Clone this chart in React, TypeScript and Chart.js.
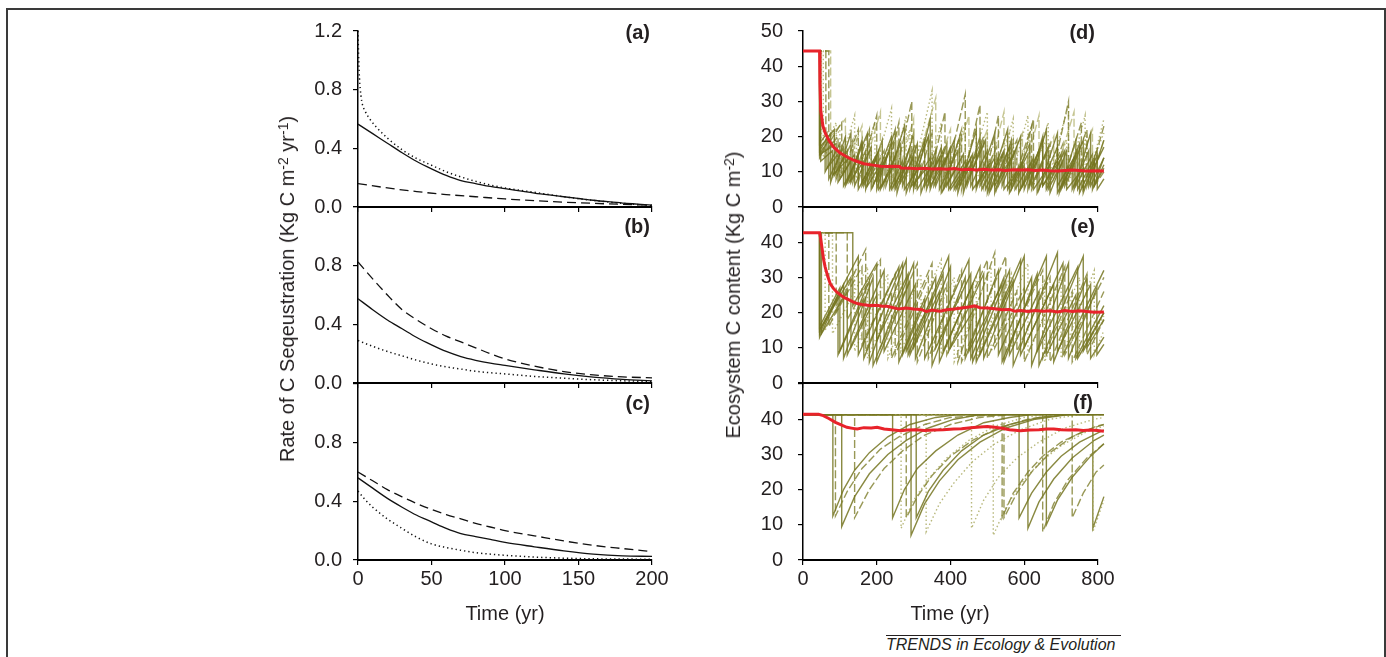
import React, { useEffect, useRef } from "react";
import { Chart, registerables } from "chart.js";
Chart.register(...registerables);

// ---------------- DATA ----------------
// Left column: rate of C sequestration (flat [year, value, ...])
const A_SOLID = [0,0.565, 10,0.5, 20,0.435, 30,0.37, 40,0.31, 50,0.26, 60,0.215, 70,0.18, 80,0.16, 90,0.14, 100,0.125, 110,0.11, 120,0.095, 130,0.082, 140,0.07, 150,0.058, 160,0.046, 170,0.036, 180,0.027, 190,0.02, 200,0.013];
const A_DASH = [0,0.16, 20,0.13, 40,0.105, 60,0.085, 80,0.07, 100,0.055, 120,0.043, 140,0.033, 160,0.025, 180,0.018, 200,0.012];
const A_DOT = [0,1.2, 0.5,1.0, 1,0.88, 2,0.76, 3,0.7, 5,0.65, 8,0.6, 12,0.55, 20,0.47, 30,0.39, 40,0.33, 50,0.285, 60,0.24, 70,0.205, 80,0.175, 90,0.15, 100,0.13, 120,0.1, 140,0.07, 160,0.045, 180,0.025, 200,0.01];

const B_SOLID = [0,0.575, 10,0.5, 20,0.43, 30,0.37, 40,0.31, 50,0.26, 60,0.215, 70,0.18, 80,0.155, 90,0.135, 100,0.12, 120,0.09, 140,0.062, 160,0.04, 180,0.025, 200,0.015];
const B_DASH = [0,0.825, 10,0.71, 20,0.6, 30,0.5, 40,0.43, 50,0.37, 60,0.32, 70,0.28, 80,0.24, 90,0.2, 100,0.165, 120,0.115, 140,0.078, 160,0.055, 180,0.042, 200,0.035];
const B_DOT = [0,0.29, 10,0.25, 20,0.215, 30,0.185, 40,0.155, 50,0.13, 60,0.11, 70,0.095, 80,0.08, 100,0.062, 120,0.045, 140,0.033, 160,0.022, 180,0.015, 200,0.01];

const C_SOLID = [0,0.56, 10,0.49, 20,0.42, 30,0.36, 40,0.305, 50,0.26, 60,0.215, 70,0.18, 80,0.16, 90,0.14, 100,0.12, 120,0.09, 140,0.062, 160,0.04, 180,0.028, 200,0.025];
const C_DASH = [0,0.6, 10,0.54, 20,0.48, 30,0.43, 40,0.385, 50,0.345, 60,0.31, 70,0.28, 80,0.25, 90,0.225, 100,0.2, 120,0.165, 140,0.13, 160,0.1, 180,0.078, 200,0.058];
const C_DOT = [0,0.47, 5,0.41, 10,0.36, 20,0.28, 30,0.215, 40,0.155, 50,0.11, 60,0.085, 70,0.066, 80,0.05, 100,0.032, 120,0.02, 150,0.01, 200,0.005];

// Right column: ecosystem C content, mean (red)
const RED_D = [0,44.3, 45,44.3, 46,35, 48,27.5, 54,23, 61,20.8, 70,19, 83,17, 100,15.4, 119,14.2, 140,13.2, 165,12.3, 190,11.9, 210,11.6, 230,11.5, 250,11.6, 262,11.5, 266,11.1, 290,11.0, 310,10.9, 330,11.0, 350,10.8, 370,10.9, 390,10.7, 410,10.9, 430,10.6, 450,10.7, 470,10.5, 490,10.7, 510,10.5, 530,10.6, 550,10.4, 570,10.6, 590,10.5, 610,10.6, 630,10.4, 650,10.5, 670,10.3, 690,10.2, 710,10.4, 730,10.5, 750,10.4, 770,10.2, 790,10.3, 816,10.2];
const RED_E = [0,42.7, 45,42.7, 48,41, 52,38, 56,35, 60,33, 67,30.3, 74,28.2, 83,26.8, 92,25.8, 110,24.4, 125,23.6, 137,23, 150,22.5, 165,22.2, 180,22.0, 200,22.1, 215,21.8, 228,21.8, 245,21.4, 260,21.0, 280,21.3, 300,21.0, 320,20.9, 335,20.3, 350,20.7, 370,20.4, 390,20.8, 410,21.0, 430,21.3, 450,21.6, 465,21.9, 480,21.4, 500,21.3, 520,21.1, 540,20.8, 560,20.9, 575,20.4, 590,20.6, 610,20.3, 630,20.6, 650,20.4, 670,20.5, 690,20.2, 710,20.6, 730,20.3, 750,20.5, 770,20.3, 790,20.1, 816,20.2];
const RED_F = [0,41.4, 42,41.4, 55,41.0, 70,40.2, 88,39.1, 105,38.3, 119,37.7, 135,37.4, 147,37.2, 165,37.6, 185,37.5, 201,37.7, 220,37.2, 240,37.0, 264,36.7, 285,36.9, 305,37.0, 330,36.8, 355,36.9, 380,37.0, 409,37.2, 430,37.3, 455,37.6, 480,37.8, 500,37.9, 520,37.7, 540,37.4, 560,37.0, 590,36.7, 615,36.9, 640,37.0, 660,37.2, 680,37.2, 700,37.0, 720,36.9, 740,37.0, 760,36.8, 780,36.9, 798,36.8, 816,36.6];

// Individual stand simulations (olive), panel d
const D1 = [0,44.3, 45,44.3, 45,15, 70,19, 70,8, 110,17, 110,6, 150,14, 150,5, 190,13, 190,6, 240,20, 240,5, 280,12, 280,4, 330,19, 330,6, 370,14, 370,5, 420,16, 420,4, 470,22, 470,6, 510,13, 510,5, 560,17, 560,4, 600,12, 600,5, 650,19, 650,6, 700,15, 700,5, 750,18, 750,4, 790,13, 790,6, 816,12];
const D2 = [0,44.3, 46,44.3, 46,17, 85,22, 85,9, 120,16, 120,7, 175,21, 175,6, 210,12, 210,5, 265,18, 265,7, 300,14, 300,5, 345,25, 345,6, 395,15, 395,5, 440,13, 440,6, 495,19, 495,5, 540,15, 540,6, 590,20, 590,5, 635,13, 635,4, 690,17, 690,6, 735,14, 735,5, 780,21, 780,6, 816,14];
const D3 = [0,44.3, 45,44.3, 45,14, 60,17, 60,10, 100,18, 100,8, 140,15, 140,6, 185,17, 185,5, 225,14, 225,6, 275,23, 275,5, 320,12, 320,4, 360,16, 360,6, 410,19, 410,5, 455,14, 455,6, 500,16, 500,4, 555,22, 555,5, 595,13, 595,6, 640,16, 640,5, 690,21, 690,4, 730,12, 730,5, 775,16, 775,6, 816,19];
const D4 = [0,44.3, 62,44.3, 62,16, 95,20, 95,10, 135,19, 135,7, 180,22, 180,8, 220,16, 220,6, 260,24, 260,7, 305,18, 305,5, 350,21, 350,8, 385,14, 385,6, 430,22, 430,5, 480,29, 480,7, 525,17, 525,5, 570,19, 570,7, 620,23, 620,5, 660,15, 660,6, 705,18, 705,7, 755,24, 755,5, 797,16, 797,7, 816,10];
const D5 = [0,44.3, 70,44.3, 70,18, 105,24, 105,9, 150,22, 150,7, 200,26, 200,8, 245,19, 245,6, 295,30, 295,9, 340,20, 340,6, 385,27, 385,7, 440,32, 440,9, 490,20, 490,6, 530,26, 530,8, 580,19, 580,6, 625,25, 625,7, 670,18, 670,6, 720,30, 720,8, 770,22, 770,6, 816,23];
const D6 = [0,44.3, 50,44.3, 50,16, 90,24, 90,8, 140,26, 140,9, 185,20, 185,7, 240,28, 240,8, 290,22, 290,6, 350,33, 350,9, 390,18, 390,7, 440,24, 440,6, 500,27, 500,8, 560,21, 560,6, 610,26, 610,8, 660,19, 660,6, 720,29, 720,7, 770,20, 770,6, 816,25];
const D7 = [0,44.3, 45,44.3, 45,16, 75,21, 75,7, 115,20, 115,6, 160,18, 160,7, 200,15, 200,5, 250,22, 250,6, 290,17, 290,5, 340,20, 340,7, 380,16, 380,5, 425,20, 425,6, 470,15, 470,5, 520,21, 520,6, 565,14, 565,5, 615,18, 615,6, 660,22, 660,5, 710,16, 710,6, 760,19, 760,5, 816,17];
const D8 = [0,44.3, 48,44.3, 48,13, 80,16, 80,9, 125,14, 125,7, 165,13, 165,6, 205,16, 205,5, 250,12, 250,5, 295,15, 295,6, 335,11, 335,5, 375,17, 375,4, 415,11, 415,5, 460,15, 460,5, 505,12, 505,4, 545,16, 545,5, 585,11, 585,4, 625,14, 625,5, 670,12, 670,4, 715,16, 715,5, 760,11, 760,4, 798,15, 798,5, 816,8];
const D9 = [0,44.3, 45,44.3, 45,18, 65,21, 65,11, 95,15, 95,7, 130,13, 130,8, 160,19, 160,6, 200,14, 200,7, 235,16, 235,5, 270,13, 270,6, 310,18, 310,5, 355,13, 355,6, 400,17, 400,5, 445,12, 445,6, 485,18, 485,5, 530,14, 530,6, 575,16, 575,5, 620,13, 620,6, 665,17, 665,5, 705,13, 705,6, 745,16, 745,5, 790,14, 790,6, 816,11];
const D10 = [0,44.3, 75,44.3, 75,20, 115,25, 115,10, 160,23, 160,9, 210,27, 210,10, 255,21, 255,8, 300,25, 300,9, 360,31, 360,10, 400,22, 400,8, 450,26, 450,9, 500,22, 500,8, 545,27, 545,9, 595,21, 595,8, 640,26, 640,10, 680,20, 680,8, 735,27, 735,9, 785,22, 785,8, 816,19];
const D11 = [0,44.3, 47,44.3, 47,15, 90,18, 90,8, 130,21, 130,7, 170,16, 170,5, 215,19, 215,6, 255,15, 255,4, 300,21, 300,6, 345,14, 345,5, 390,18, 390,6, 435,15, 435,4, 480,20, 480,6, 520,14, 520,4, 565,19, 565,6, 610,15, 610,5, 650,20, 650,6, 695,13, 695,4, 740,19, 740,6, 785,15, 785,5, 816,14];
const D12 = [0,44.3, 55,44.3, 55,14, 100,22, 100,9, 145,19, 145,8, 195,24, 195,7, 235,18, 235,6, 280,26, 280,8, 330,20, 330,6, 375,24, 375,7, 425,19, 425,6, 470,23, 470,8, 520,18, 520,6, 570,25, 570,7, 615,20, 615,6, 665,24, 665,7, 715,19, 715,6, 765,26, 765,8, 816,21];

// panel e
const E1 = [0,42.7, 45,42.7, 45,15, 150,36, 150,8, 260,33, 260,6, 330,24, 330,7, 450,35, 450,9, 540,28, 540,6, 660,36, 660,8, 740,25, 740,7, 816,22];
const E2 = [0,42.7, 45,42.7, 45,13, 110,28, 110,7, 190,30, 190,5, 300,34, 300,10, 370,26, 370,6, 480,33, 480,8, 570,29, 570,5, 690,37, 690,9, 780,28, 780,7, 816,13];
const E3 = [0,42.7, 70,42.7, 70,16, 170,38, 170,9, 240,26, 240,7, 350,34, 350,8, 420,24, 420,6, 520,37, 520,10, 600,27, 600,6, 710,33, 710,8, 816,30];
const E4 = [0,42.7, 45,42.7, 45,14, 95,25, 95,8, 180,29, 180,6, 280,35, 280,9, 350,24, 350,5, 440,30, 440,7, 530,32, 530,8, 620,30, 620,5, 720,34, 720,7, 797,27, 797,8, 816,11];
const E5 = [0,42.7, 120,42.7, 120,18, 210,35, 210,10, 310,34, 310,6, 390,28, 390,8, 500,35, 500,7, 580,26, 580,9, 670,30, 670,6, 770,31, 770,8, 816,18];
const E6 = [0,42.7, 60,42.7, 60,15, 140,32, 140,9, 230,31, 230,7, 320,31, 320,11, 410,30, 410,6, 510,33, 510,9, 610,34, 610,8, 700,30, 700,7, 790,32, 790,8, 816,15];
const E7 = [0,42.7, 45,42.7, 45,15, 130,30, 130,10, 200,25, 200,6, 290,29, 290,8, 380,31, 380,9, 460,28, 460,6, 560,32, 560,8, 640,26, 640,5, 760,36, 760,9, 816,20];
const E8 = [0,42.7, 50,42.7, 50,14, 120,26, 120,8, 220,32, 220,9, 305,28, 305,7, 400,33, 400,10, 470,22, 470,6, 590,35, 590,8, 680,28, 680,6, 770,30, 770,10, 816,18];
const E9 = [0,42.7, 90,42.7, 90,20, 160,33, 160,11, 250,31, 250,8, 340,30, 340,7, 430,32, 430,6, 550,36, 550,9, 650,32, 650,7, 730,26, 730,6, 816,26];
const E10 = [0,42.7, 45,42.7, 45,16, 100,27, 100,9, 165,24, 165,7, 270,34, 270,8, 360,30, 360,10, 455,31, 455,7, 545,30, 545,6, 635,31, 635,9, 745,33, 745,7, 816,20];
const E11 = [0,42.7, 80,42.7, 80,14, 175,33, 175,7, 265,29, 265,9, 375,35, 375,8, 470,30, 470,7, 565,31, 565,10, 655,29, 655,6, 750,30, 750,8, 816,19];
const E12 = [0,42.7, 135,42.7, 135,22, 200,34, 200,12, 285,31, 285,8, 395,36, 395,9, 490,31, 490,7, 600,36, 600,10, 705,34, 705,8, 816,32];

// panel f
const F1 = [0,41.3, 81,41.3, 81,12.5, 110,20, 140,25.5, 180,30.5, 230,35, 290,38.5, 360,40.5, 420,41.3, 816,41.3];
const F2 = [0,41.3, 88,41.3, 88,12.5, 120,19.5, 160,26, 210,31.5, 260,35, 330,38.5, 400,40.5, 540,41.3, 540,12, 570,19, 610,25, 650,29.5, 700,33.5, 760,36.5, 816,38.5];
const F3 = [0,41.3, 105,41.3, 105,9.5, 140,18, 180,24.5, 230,30, 280,34, 340,37.5, 410,40, 480,41.3, 586,41.3, 586,12, 620,19, 660,25, 700,29.5, 750,33.5, 816,37];
const F4 = [0,41.3, 140,41.3, 140,12, 180,20, 220,26, 270,31, 330,35.5, 400,38.5, 480,40.5, 560,41.3, 650,41.3, 650,8, 680,16, 720,23, 770,29, 816,33];
const F5 = [0,41.3, 243,41.3, 243,12, 275,20, 310,26, 360,31, 420,35.5, 490,39, 560,40.5, 620,41.3, 816,41.3];
const F6 = [0,41.3, 266,41.3, 266,9, 300,17, 340,23, 390,29, 450,34, 520,38, 600,40.5, 660,41.3, 786,41.3, 786,8, 816,17];
const F7 = [0,41.3, 280,41.3, 280,12, 310,18, 350,24, 400,29.5, 460,34, 530,37.5, 610,40, 700,41.3, 816,41.3];
const F8 = [0,41.3, 293,41.3, 293,7, 330,16, 370,22.5, 420,28.5, 480,33.5, 550,37.5, 630,40, 720,41.3, 816,41.3];
const F9 = [0,41.3, 307,41.3, 307,12, 340,19.5, 380,25.5, 430,31, 490,35.5, 560,38.5, 640,40.5, 720,41.3, 816,41.3];
const F10 = [0,41.3, 334,41.3, 334,8, 370,16, 410,22, 460,28, 520,33, 590,37, 670,40, 750,41.3, 816,41.3];
const F11 = [0,41.3, 457,41.3, 457,9, 490,17, 530,23.5, 580,29, 640,33.5, 710,37.5, 790,40, 816,40.5];
const F12 = [0,41.3, 545,41.3, 545,12, 580,19, 620,25, 670,30.5, 730,35, 795,38, 816,38.5];
const F13 = [0,41.3, 610,41.3, 610,9, 640,16.5, 680,23, 730,29, 790,34, 816,35.5];
const F14 = [0,41.3, 516,41.3, 516,7, 550,15, 590,21.5, 640,27.5, 700,32.5, 770,36.5, 816,38];
const F15 = [0,41.3, 660,41.3, 660,10, 690,17, 730,23.5, 780,29.5, 816,33];
const F16 = [0,41.3, 730,41.3, 730,12, 760,19, 795,25, 816,27];
const F17 = [0,41.3, 786,41.3, 786,9, 816,18];

const LEFT_X_TICKS = [0, 50, 100, 150, 200];
const RIGHT_X_TICKS = [0, 200, 400, 600, 800];
const LEFT_Y_TICKS = [0, 0.4, 0.8, 1.2];
const RIGHT_Y_TICKS = [0, 10, 20, 30, 40, 50];
const PANEL_LABELS = ["(a)", "(b)", "(c)", "(d)", "(e)", "(f)"];

// ---------------- STYLE / LAYOUT ----------------
const FONT = "'Liberation Sans', Arial, Helvetica, sans-serif";
const TXT = "#231f20";

const OLIVE: Record<string, { color: string; dash: number[] }> = {
  s: { color: "rgba(116,116,32,0.85)", dash: [] },
  d: { color: "rgba(126,126,44,0.8)", dash: [8, 3] },
  o: { color: "rgba(160,160,80,0.75)", dash: [1.5, 2.5] },
  l: { color: "rgba(172,172,98,0.7)", dash: [8, 3] },
};
const BLACK: Record<string, number[]> = { s: [], d: [9, 5], o: [1.3, 3] };

const D_KINDS = ["s", "s", "s", "d", "d", "o", "s", "s", "s", "l", "s", "o"];
const E_KINDS = ["s", "s", "d", "s", "d", "o", "s", "s", "d", "s", "o", "s"];
const F_KINDS = ["s", "d", "s", "d", "s", "o", "d", "s", "s", "o", "o", "d", "s", "o", "s", "d", "s"];

type Series = { data: number[]; kind: string };
type PanelSpec = { col: 0 | 1; row: 0 | 1 | 2; lines: Series[]; red?: number[] };

const PANELS: PanelSpec[] = [
  { col: 0, row: 0, lines: [{ data: A_SOLID, kind: "s" }, { data: A_DASH, kind: "d" }, { data: A_DOT, kind: "o" }] },
  { col: 0, row: 1, lines: [{ data: B_SOLID, kind: "s" }, { data: B_DASH, kind: "d" }, { data: B_DOT, kind: "o" }] },
  { col: 0, row: 2, lines: [{ data: C_SOLID, kind: "s" }, { data: C_DASH, kind: "d" }, { data: C_DOT, kind: "o" }] },
  { col: 1, row: 0, red: RED_D, lines: [D1, D2, D3, D4, D5, D6, D7, D8, D9, D10, D11, D12].map((d, i) => ({ data: d, kind: D_KINDS[i] })) },
  { col: 1, row: 1, red: RED_E, lines: [E1, E2, E3, E4, E5, E6, E7, E8, E9, E10, E11, E12].map((d, i) => ({ data: d, kind: E_KINDS[i] })) },
  { col: 1, row: 2, red: RED_F, lines: [F1, F2, F3, F4, F5, F6, F7, F8, F9, F10, F11, F12, F13, F14, F15, F16, F17].map((d, i) => ({ data: d, kind: F_KINDS[i] })) },
];

const COL_AXIS_X = [358, 803];
const COL_PLOT_W = [294, 295];
const ROW_TOP = [31, 207, 384];
const PLOT_H = 176;
const YW = 70, PT = 34, PR = 40;

function toPts(flat: number[]) {
  const out: { x: number; y: number }[] = [];
  for (let i = 0; i < flat.length; i += 2) out.push({ x: flat[i], y: flat[i + 1] });
  return out;
}

function Panel({ spec }: { spec: PanelSpec }) {
  const ref = useRef<HTMLCanvasElement>(null);
  const XH = spec.row === 2 ? 45 : 34;
  const left = COL_AXIS_X[spec.col] - YW;
  const top = ROW_TOP[spec.row] - PT;
  const width = YW + COL_PLOT_W[spec.col] + PR;
  const height = PT + PLOT_H + XH;

  useEffect(() => {
    const isL = spec.col === 0;
    const xTicks = isL ? LEFT_X_TICKS : RIGHT_X_TICKS;
    const yTicks = isL ? LEFT_Y_TICKS : RIGHT_Y_TICKS;
    const yMax = yTicks[yTicks.length - 1];
    const datasets: any[] = [];
    if (spec.red) {
      datasets.push({
        data: toPts(spec.red), borderColor: "#e8232b", borderWidth: 3, pointRadius: 0,
        tension: 0, clip: false, order: 0,
      });
    }
    spec.lines.forEach((ln) => {
      if (isL) {
        datasets.push({
          data: toPts(ln.data), borderColor: "#111", borderWidth: ln.kind === "o" ? 1.5 : 1.3,
          borderDash: BLACK[ln.kind], pointRadius: 0, cubicInterpolationMode: "monotone", order: 1,
        });
      } else {
        const st = OLIVE[ln.kind];
        datasets.push({
          data: toPts(ln.data), borderColor: st.color, borderWidth: 1.4, borderDash: st.dash,
          pointRadius: 0, tension: 0, clip: false, order: 1,
        });
      }
    });
    const tickFont = { family: FONT, size: 20 };
    const chart = new Chart(ref.current!, {
      type: "line",
      data: { datasets },
      options: {
        animation: false,
        responsive: true,
        maintainAspectRatio: false,
        layout: { padding: { top: PT, right: PR, left: 0, bottom: 0 } },
        plugins: { legend: { display: false }, tooltip: { enabled: false }, title: { display: false } },
        scales: {
          x: {
            type: "linear",
            min: 0,
            max: xTicks[xTicks.length - 1],
            afterFit: (s: any) => { s.height = XH; },
            afterBuildTicks: (s: any) => { s.ticks = xTicks.map((v) => ({ value: v })); },
            ticks: {
              font: tickFont, color: TXT, padding: 2, maxRotation: 0, autoSkip: false,
              callback: (v: any) => (spec.row === 2 ? String(v) : ""),
            },
            grid: { display: true, drawOnChartArea: false, drawTicks: true, tickLength: 5, color: "#000", lineWidth: 1.2 },
            border: { display: true, color: "#000", width: 2 },
          },
          y: {
            type: "linear",
            min: 0,
            max: yMax,
            afterFit: (s: any) => { s.width = YW; },
            afterBuildTicks: (s: any) => { s.ticks = yTicks.map((v) => ({ value: v })); },
            ticks: {
              font: tickFont, color: TXT, padding: isL ? 11 : 15, autoSkip: false,
              callback: (v: any) => {
                if (spec.row > 0 && v >= yMax - 1e-9) return "";
                return isL ? Number(v).toFixed(1) : String(v);
              },
            },
            grid: { display: true, drawOnChartArea: false, drawTicks: true, tickLength: 5, color: "#000", lineWidth: 1.2 },
            border: { display: true, color: "#000", width: 1.5 },
          },
        },
      } as any,
    });
    return () => chart.destroy();
  }, []);

  return (
    <div style={{ position: "absolute", left, top, width, height }}>
      <canvas ref={ref} />
    </div>
  );
}

const Sup = ({ children }: { children: React.ReactNode }) => (
  <sup style={{ fontSize: "0.7em", verticalAlign: "0.45em", lineHeight: 0 }}>{children}</sup>
);

export default function App() {
  const labelPos = [
    [650, 31.5], [650, 225.5], [650, 402.5],
    [1095, 31.5], [1095, 225.5], [1093, 402],
  ];
  return (
    <div
      style={{
        position: "fixed", left: 0, top: 0, width: 1386, height: 657, background: "#fff",
        overflow: "hidden", fontFamily: FONT, color: TXT,
      }}
    >
      <div
        style={{
          position: "absolute", left: 6, top: 8, width: 1376, height: 700,
          borderTop: "2px solid #3a3a3a", borderLeft: "2px solid #3a3a3a", borderRight: "2px solid #3a3a3a",
        }}
      />
      {PANELS.map((p, i) => (
        <Panel key={i} spec={p} />
      ))}
      {PANEL_LABELS.map((t, i) => (
        <div
          key={t}
          style={{
            position: "absolute", left: labelPos[i][0], top: labelPos[i][1],
            transform: "translate(-100%,-50%)", fontWeight: "bold", fontSize: 20, lineHeight: 1, whiteSpace: "nowrap",
          }}
        >
          {t}
        </div>
      ))}
      <div
        style={{
          position: "absolute", left: 287, top: 289, transform: "translate(-50%,-50%) rotate(-90deg)",
          fontSize: 20, lineHeight: 1, whiteSpace: "nowrap",
        }}
      >
        Rate of C Seqeustration (Kg C m<Sup>-2</Sup> yr<Sup>-1</Sup>)
      </div>
      <div
        style={{
          position: "absolute", left: 733, top: 295, transform: "translate(-50%,-50%) rotate(-90deg)",
          fontSize: 20, lineHeight: 1, whiteSpace: "nowrap",
        }}
      >
        Ecosystem C content (Kg C m<Sup>-2</Sup>)
      </div>
      <div style={{ position: "absolute", left: 505, top: 603, transform: "translateX(-50%)", fontSize: 20, lineHeight: 1, whiteSpace: "nowrap" }}>
        Time (yr)
      </div>
      <div style={{ position: "absolute", left: 950, top: 603, transform: "translateX(-50%)", fontSize: 20, lineHeight: 1, whiteSpace: "nowrap" }}>
        Time (yr)
      </div>
      <div style={{ position: "absolute", left: 886, top: 635, width: 235, borderTop: "1px solid #231f20" }} />
      <div style={{ position: "absolute", left: 886, top: 637, fontSize: 16, fontStyle: "italic", lineHeight: 1, whiteSpace: "nowrap" }}>
        TRENDS in Ecology &amp; Evolution
      </div>
    </div>
  );
}
